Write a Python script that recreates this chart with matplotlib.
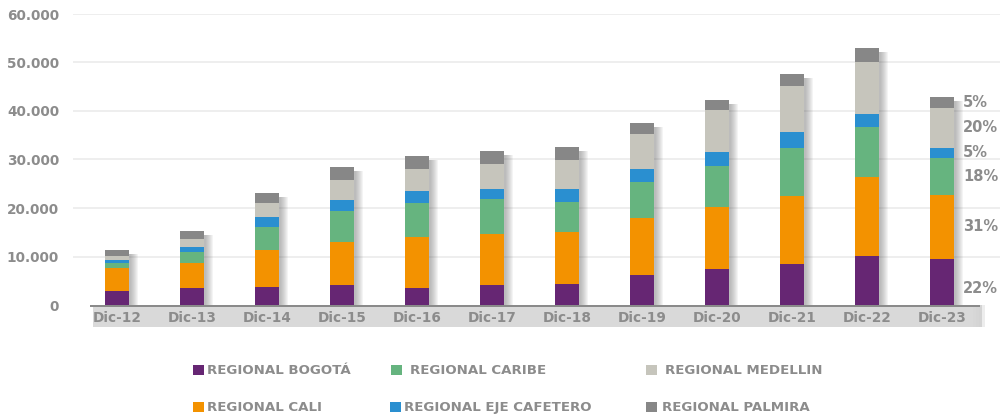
import matplotlib
matplotlib.use("Agg")
import matplotlib.pyplot as plt
from matplotlib.patches import Rectangle
import numpy as np

categories = ["Dic-12", "Dic-13", "Dic-14", "Dic-15", "Dic-16", "Dic-17",
              "Dic-18", "Dic-19", "Dic-20", "Dic-21", "Dic-22", "Dic-23"]
bogota   = [2890, 3500, 3710, 4120, 3500, 4120, 4330, 6190, 7420, 8450, 10100, 9490]
cali     = [4800, 5150, 7700, 8930, 10520, 10580, 10790, 11750, 12720, 14020, 16290, 13200]
caribe   = [970, 2330, 4680, 6330, 7010, 7150, 6120, 7420, 8520, 9900, 10310, 7630]
eje      = [620, 970, 2060, 2270, 2470, 2060, 2680, 2680, 2890, 3300, 2680, 2060]
medellin = [825, 1650, 2890, 4120, 4540, 5150, 5980, 7220, 8660, 9490, 10720, 8250]
palmira  = [1240, 1650, 2060, 2680, 2680, 2680, 2680, 2270, 2060, 2470, 2890, 2270]
pct_labels = ["22%", "31%", "18%", "5%", "20%", "5%"]
yticks = [0, 10000, 20000, 30000, 40000, 50000, 60000]
ytick_labels = ["0", "10.000", "20.000", "30.000", "40.000", "50.000", "60.000"]

series = [
    ("REGIONAL BOGOTÁ", bogota, "#662673"),
    ("REGIONAL CALI", cali, "#F39200"),
    ("REGIONAL CARIBE", caribe, "#66B47F"),
    ("REGIONAL EJE CAFETERO", eje, "#2A8FD0"),
    ("REGIONAL MEDELLIN", medellin, "#C6C5BC"),
    ("REGIONAL PALMIRA", palmira, "#878787"),
]

W, H = 1001, 419
fig = plt.figure(figsize=(W / 100, H / 100), dpi=100)
ax = fig.add_axes([73 / W, (H - 305) / H, (1000 - 73) / W, (305 - 14) / H])
ax.set_facecolor("none")
ax.set_zorder(2)

x = np.arange(len(categories))
bw = 0.32
totals = np.sum([s[1] for s in series], axis=0)

# band behind x tick labels
fig.patches.append(Rectangle((93 / W, (H - 327) / H), (982 - 93) / W, 22 / H,
                             transform=fig.transFigure, facecolor="#D9D9D9",
                             edgecolor="none", zorder=-2))
for i in range(4):
    fig.patches.append(Rectangle(((982 - 3 * i) / W, (H - 327) / H), 3 / W, 22 / H,
                                 transform=fig.transFigure, facecolor="#BBBBBB",
                                 alpha=0.25 * (4 - i) / 4, edgecolor="none", zorder=-2))
fig.patches.append(Rectangle((90 / W, (H - 307) / H), (980 - 90) / W, 2 / H,
                             transform=fig.transFigure, facecolor="#8A8A8A",
                             edgecolor="none", zorder=-1))

# grid
for t in yticks[1:]:
    ax.axhline(t, color="#EBEBEB", lw=1.2, zorder=0)

# shadows
for k in range(1, 9):
    ax.bar(x + 0.012 * k + 0.02, totals - 900, bw, bottom=0, color="#6E6E6E",
           alpha=0.07, zorder=1, linewidth=0)

bottom = np.zeros(len(categories))
for name, vals, col in series:
    vals = np.array(vals)
    ax.bar(x, vals, bw, bottom=bottom, color=col, zorder=2, linewidth=0, label=name)
    bottom += vals

# percent labels for last bar
last = len(categories) - 1
b = 0
offsets = [-1300, 0, 0, 0, 0, 0]
for (name, vals, col), lab, off in zip(series, pct_labels, offsets):
    c = b + vals[last] / 2 + off
    ax.text(last + 0.28, c, lab, fontsize=10.5, fontweight="bold", color="#8C8C8C",
            ha="left", va="center", family="DejaVu Sans")
    b += vals[last]

ax.set_xlim(-0.587, 11.773)
ax.set_ylim(0, 60000)
ax.set_yticks(yticks)
ax.set_yticklabels(ytick_labels)
ax.set_xticks(x)
ax.set_xticklabels(categories)
ax.tick_params(axis="both", length=0, colors="#8C8C8C", labelsize=9.8)
ax.tick_params(axis="y", pad=10)
ax.tick_params(axis="x", pad=4)
for lbl in ax.get_xticklabels() + ax.get_yticklabels():
    lbl.set_fontweight("bold")
for sp in ax.spines.values():
    sp.set_visible(False)

# legend (manual)
leg = [
    ("REGIONAL BOGOTÁ", "#662673", 193, 207, 370),
    ("REGIONAL CARIBE", "#66B47F", 391, 410, 370),
    ("REGIONAL MEDELLIN", "#C6C5BC", 646, 665, 370),
    ("REGIONAL CALI", "#F39200", 193, 207, 407),
    ("REGIONAL EJE CAFETERO", "#2A8FD0", 390, 404, 407),
    ("REGIONAL PALMIRA", "#878787", 646, 662, 407),
]
for name, col, mx, tx, yy in leg:
    fig.patches.append(Rectangle((mx / W, (H - yy - 5) / H), 11 / W, 10 / H,
                                 transform=fig.transFigure, facecolor=col, edgecolor="none"))
    fig.text(tx / W, (H - yy) / H, name, fontsize=9.6, fontweight="bold",
             color="#8C8C8C", ha="left", va="center", family="DejaVu Sans")

fig.savefig("out.png", dpi=100)
